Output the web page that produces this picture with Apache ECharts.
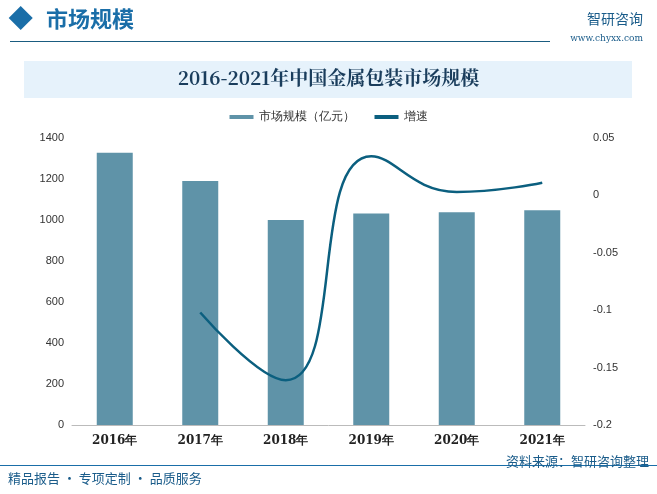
<!DOCTYPE html>
<html>
<head>
<meta charset="utf-8">
<script src="https://cdn.jsdelivr.net/npm/echarts@6/dist/echarts.min.js"></script>
<style>
body{margin:0;background:#fff;font-family:"Noto Sans CJK SC",sans-serif}
#wrap{position:relative;width:657px;height:494px;overflow:hidden}
#chart{position:absolute;left:0;top:0;width:657px;height:494px}
</style>
</head>
<body>
<div id="wrap"><div id="chart"></div></div>
<script>
var years = ['2016年','2017年','2018年','2019年','2020年','2021年']
var scale = [1328,1190,1000,1032,1038,1048]
var growth = [null,-0.102,-0.161,0.034,0.003,0.011]

var chart = echarts.init(document.getElementById('chart'))
var option = {
  graphic: [
    {type:'rect',shape:{x:12,y:10,width:17,height:17},rotation:Math.PI/4,originX:20,originY:18,
      x:0,y:0,style:{fill:'#1a6ea8'}},
    {type:'text',left:46,top:8,style:{text:'市场规模',fill:'#1a6ea8',font:'bold 22px "Noto Sans CJK SC"'}},
    {type:'rect',shape:{x:10,y:41,width:540,height:1},style:{fill:'#1a5c80'}},
    {type:'text',right:14,top:12,style:{text:'智研咨询',fill:'#1a5c8a',font:'14px "Noto Sans CJK SC"'}},
    {type:'text',right:14,top:34,style:{text:'www.chyxx.com',fill:'#1a5c8a',font:'9px "DejaVu Serif"'}},
    {type:'rect',shape:{x:24,y:61,width:608,height:37},style:{fill:'#e6f2fb'}},
    {type:'text',left:'center',top:68,style:{text:'2016-2021年中国金属包装市场规模',fill:'#1a3d5c',font:'bold 19px "Noto Serif CJK SC","Noto Sans CJK SC"'}},
    {type:'rect',shape:{x:0,y:465,width:657,height:1},style:{fill:'#1a6ea8'}},
    {type:'text',left:8,top:472,style:{text:'精品报告 · 专项定制 · 品质服务',fill:'#1a5c8a',font:'13px "Noto Sans CJK SC"'}},
    {type:'text',right:8,top:455,style:{text:'资料来源：智研咨询整理',fill:'#1a5c8a',font:'13px "Noto Sans CJK SC"'}}
  ],
  legend: {
    top: 106, left: 'center', itemWidth: 24, itemHeight: 4, itemGap: 20,
    textStyle: {fontSize: 12, color: '#333'},
    data: [{name:'市场规模（亿元）',icon:'rect'},{name:'增速',icon:'rect'}]
  },
  grid: {left: 72, right: 72, top: 138, bottom: 69},
  xAxis: {
    type: 'category', data: years,
    axisLine: {lineStyle: {color: '#bbb'}}, axisTick: {show: false},
    axisLabel: {color: '#222', fontWeight: 'bold', fontSize: 12, fontFamily: 'DejaVu Serif', margin: 10}
  },
  yAxis: [
    {type:'value', min:0, max:1400, interval:200, splitLine:{show:false},
      axisLabel:{color:'#333', fontSize:11, formatter:function(v){return String(v)}}, axisLine:{show:false}},
    {type:'value', min:-0.2, max:0.05, interval:0.05, splitLine:{show:false},
      axisLabel:{color:'#333', fontSize:11, formatter:function(v){return String(+v.toFixed(2))}}, axisLine:{show:false}}
  ],
  series: [
    {name:'市场规模（亿元）', type:'bar', data: scale, barWidth: 36, itemStyle:{color:'#5f93a8'}},
    {name:'增速', type:'line', yAxisIndex:1, data: growth, smooth: 0.5, symbol:'none',
      lineStyle:{color:'#0b5f7f', width:2.5}, itemStyle:{color:'#0b5f7f'}}
  ]
}
chart.setOption(option)
</script>
</body>
</html>
